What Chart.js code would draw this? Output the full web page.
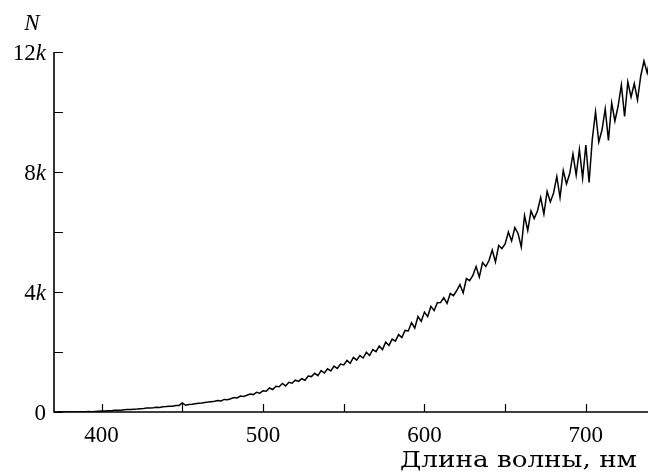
<!DOCTYPE html>
<html>
<head>
<meta charset="utf-8">
<script src="https://cdn.jsdelivr.net/npm/chart.js@4"></script>
<style>
  html, body { margin: 0; padding: 0; background: #fff; }
  #wrap { width: 648px; height: 472px; }
</style>
</head>
<body>
<div id="wrap"><canvas id="spectrum" width="648" height="472"></canvas></div>
<script>
// wavelength, nm (2 nm step)
const wavelengths = [
  370, 372, 374, 376, 378, 380, 382, 384, 386, 388,
  390, 392, 394, 396, 398, 400, 402, 404, 406, 408,
  410, 412, 414, 416, 418, 420, 422, 424, 426, 428,
  430, 432, 434, 436, 438, 440, 442, 444, 446, 448,
  450, 452, 454, 456, 458, 460, 462, 464, 466, 468,
  470, 472, 474, 476, 478, 480, 482, 484, 486, 488,
  490, 492, 494, 496, 498, 500, 502, 504, 506, 508,
  510, 512, 514, 516, 518, 520, 522, 524, 526, 528,
  530, 532, 534, 536, 538, 540, 542, 544, 546, 548,
  550, 552, 554, 556, 558, 560, 562, 564, 566, 568,
  570, 572, 574, 576, 578, 580, 582, 584, 586, 588,
  590, 592, 594, 596, 598, 600, 602, 604, 606, 608,
  610, 612, 614, 616, 618, 620, 622, 624, 626, 628,
  630, 632, 634, 636, 638, 640, 642, 644, 646, 648,
  650, 652, 654, 656, 658, 660, 662, 664, 666, 668,
  670, 672, 674, 676, 678, 680, 682, 684, 686, 688,
  690, 692, 694, 696, 698, 700, 702, 704, 706, 708,
  710, 712, 714, 716, 718, 720, 722, 724, 726, 728,
  730, 732, 734, 736, 738, 740
];

// counts N
const counts = [
  0, 0, 5, 0, 5, 0, 5, 0, 10, 5,
  5, 15, 10, 20, 25, 30, 30, 45, 40, 55,
  60, 60, 75, 80, 85, 95, 100, 110, 115, 130,
  135, 140, 155, 150, 175, 180, 190, 195, 215, 220,
  300, 225, 250, 260, 275, 290, 300, 320, 330, 345,
  360, 385, 370, 420, 410, 440, 480, 470, 530, 520,
  560, 600, 580, 660, 630, 710, 690, 800, 750, 860,
  840, 950, 870, 990, 960, 1060, 1020, 1110, 1060, 1200,
  1180, 1290, 1210, 1380, 1300, 1440, 1370, 1530, 1450, 1600,
  1570, 1720, 1620, 1820, 1730, 1880, 1800, 1990, 1880, 2080,
  2010, 2200, 2080, 2330, 2220, 2430, 2360, 2580, 2480, 2720,
  2700, 2980, 2800, 3180, 3020, 3330, 3180, 3520, 3380, 3640,
  3650, 3810, 3620, 3950, 3880, 4050, 4250, 3970, 4450, 4380,
  4550, 4850, 4500, 4980, 4850, 5050, 5400, 5000, 5550, 5450,
  5600, 6000, 5700, 6150, 5950, 5500, 6550, 6050, 6700, 6450,
  6700, 7150, 6600, 7350, 7000, 7300, 7850, 7150, 8050, 7600,
  7950, 8600, 7900, 8750, 7800, 8900, 7650, 9100, 10000, 9000,
  9400, 10100, 9050, 10300, 9700, 10200, 10900, 9850, 11000, 10500,
  10950, 10400, 11200, 11700, 11300, 11850
];

const xMajorTicks = [400, 500, 600, 700];
const xMinorTicks = [450, 550, 650];
const yMajorTicks = [0, 4000, 8000, 12000];
const yMinorTicks = [2000, 6000, 10000];
const yTickLabels = ['0', '4', '8', '12'];  // followed by italic "k" except for 0

const SERIF = '"Liberation Serif", "DejaVu Serif", serif';
const FONT_PX = 23;

// axes, ticks and labels drawn by hand (ticks point into the plot)
const axesPlugin = {
  id: 'paperAxes',
  afterDraw(chart) {
    const { ctx, chartArea: ca, scales } = chart;
    const plain = FONT_PX + 'px ' + SERIF;
    const ital = 'italic ' + FONT_PX + 'px ' + SERIF;
    ctx.save();
    ctx.strokeStyle = '#000';
    ctx.fillStyle = '#000';

    ctx.lineWidth = 1.6;
    ctx.beginPath();
    ctx.moveTo(ca.left, ca.top);
    ctx.lineTo(ca.left, ca.bottom);
    ctx.lineTo(ca.right, ca.bottom);
    ctx.stroke();

    ctx.lineWidth = 1.2;
    ctx.beginPath();
    for (const v of [...xMajorTicks, ...xMinorTicks]) {
      const px = Math.round(scales.x.getPixelForValue(v)) + 0.5;
      ctx.moveTo(px, ca.bottom);
      ctx.lineTo(px, ca.bottom - 8);
    }
    for (const v of [...yMajorTicks, ...yMinorTicks]) {
      const py = Math.round(scales.y.getPixelForValue(v)) + 0.5;
      ctx.moveTo(ca.left, py);
      ctx.lineTo(ca.left + 9, py);
    }
    ctx.stroke();

    // x tick labels
    ctx.font = plain;
    ctx.textAlign = 'center';
    ctx.textBaseline = 'alphabetic';
    for (const v of xMajorTicks) {
      ctx.fillText(String(v), scales.x.getPixelForValue(v), ca.bottom + 30);
    }

    // y tick labels: number + italic k
    const rightEdge = ca.left - 8;
    ctx.textAlign = 'left';
    yMajorTicks.forEach((v, i) => {
      const py = scales.y.getPixelForValue(v) + 8;
      const num = yTickLabels[i];
      ctx.font = plain;
      const nw = ctx.measureText(num).width;
      if (v === 0) {
        ctx.fillText(num, rightEdge - nw, py);
        return;
      }
      ctx.font = ital;
      const kw = ctx.measureText('k').width;
      ctx.font = plain;
      ctx.fillText(num, rightEdge - kw - nw, py);
      ctx.font = ital;
      ctx.fillText('k', rightEdge - kw, py);
    });

    // axis titles
    ctx.font = ital;
    ctx.textAlign = 'center';
    ctx.fillText('N', 32, 30);

    // x title: wide serif face, fitted to the span seen in the figure
    const title = 'Длина волны, нм';
    ctx.font = '22px "DejaVu Serif", serif';
    ctx.textAlign = 'left';
    const w0 = ctx.measureText(title).width;
    ctx.translate(400, 467);
    ctx.scale(237 / w0, 1);
    ctx.fillText(title, 0, 0);

    ctx.restore();
  }
};

new Chart(document.getElementById('spectrum'), {
  type: 'line',
  data: {
    datasets: [{
      data: wavelengths.map((w, i) => ({ x: w, y: counts[i] })),
      borderColor: '#000',
      borderWidth: 1.5,
      pointRadius: 0,
      tension: 0,
      fill: false
    }]
  },
  options: {
    responsive: false,
    animation: false,
    events: [],
    layout: { padding: { left: 54, top: 52, right: 0, bottom: 60 } },
    scales: {
      x: { type: 'linear', display: false, min: 370.5, max: 738.5 },
      y: { type: 'linear', display: false, min: 0, max: 12000 }
    },
    plugins: {
      legend: { display: false },
      tooltip: { enabled: false }
    }
  },
  plugins: [axesPlugin]
});
</script>
</body>
</html>
